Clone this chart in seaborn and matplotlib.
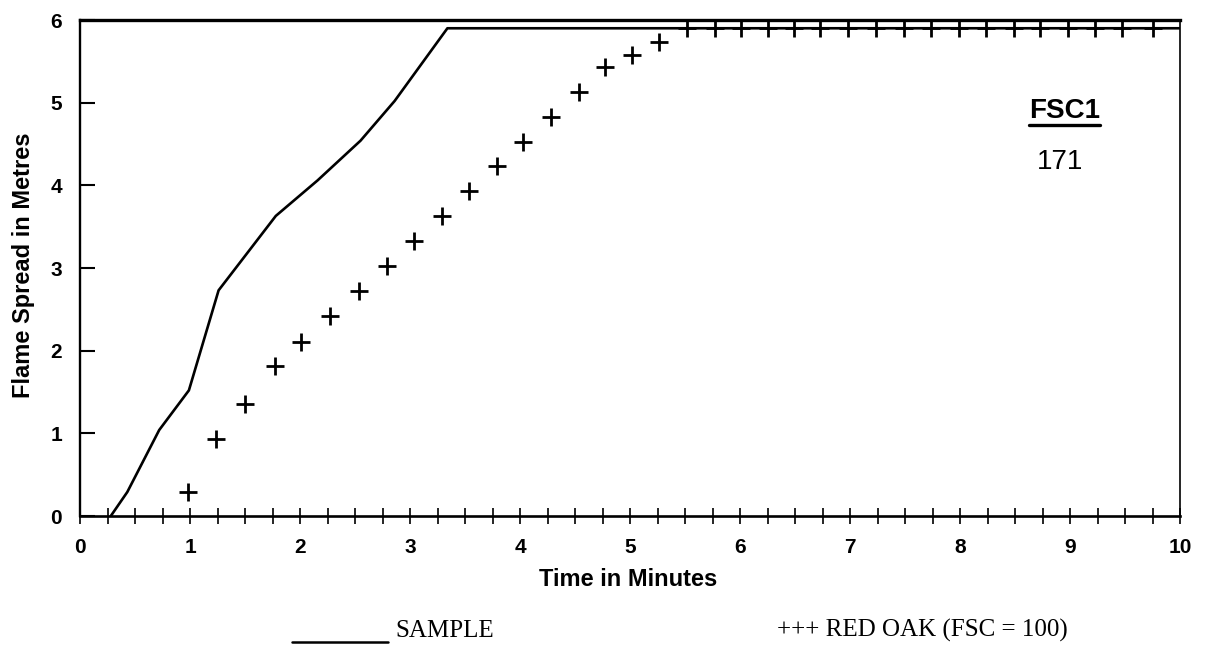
import numpy as np
import pandas as pd
import matplotlib
matplotlib.use("Agg")
import matplotlib.pyplot as plt
from matplotlib.lines import Line2D
from matplotlib.ticker import MultipleLocator
import seaborn as sns

# ---- data ----
sample_t = [0.28, 0.43, 0.72, 0.99, 1.26, 1.78, 2.16, 2.55, 2.86, 3.34, 10.0]
sample_y = [0.00, 0.29, 1.04, 1.52, 2.73, 3.63, 4.06, 4.54, 5.02, 5.90, 5.90]

oak_t = [0.98, 1.24, 1.50, 1.77, 2.01, 2.27, 2.54, 2.79, 3.04, 3.29, 3.54, 3.79,
         4.03, 4.28, 4.54, 4.77, 5.02, 5.26, 5.52, 5.77, 6.01, 6.25, 6.49, 6.73,
         6.98, 7.24, 7.49, 7.74, 7.99, 8.24, 8.49, 8.73, 8.98, 9.23, 9.47, 9.75]
oak_y = [0.29, 0.93, 1.35, 1.81, 2.11, 2.42, 2.72, 3.02, 3.33, 3.63, 3.93, 4.23,
         4.53, 4.83, 5.13, 5.43, 5.58, 5.73, 5.90, 5.90, 5.90, 5.90, 5.90, 5.90,
         5.90, 5.90, 5.90, 5.90, 5.90, 5.90, 5.90, 5.90, 5.90, 5.90, 5.90, 5.90]

x_ticks = [0, 1, 2, 3, 4, 5, 6, 7, 8, 9, 10]
y_ticks = [0, 1, 2, 3, 4, 5, 6]

x_label = "Time in Minutes"
y_label = "Flame Spread in Metres"
annot_title = "FSC1"
annot_value = "171"
legend_sample = "SAMPLE"
legend_oak = "+++ RED OAK (FSC = 100)"

sample_df = pd.DataFrame({"t": sample_t, "y": sample_y})
oak_df = pd.DataFrame({"t": oak_t, "y": oak_y})

# ---- style ----
sns.set_style("ticks")
plt.rcParams["font.family"] = ["Liberation Sans", "DejaVu Sans"]
plt.rcParams["text.color"] = "black"
plt.rcParams["axes.labelcolor"] = "black"
plt.rcParams["xtick.color"] = "black"
plt.rcParams["ytick.color"] = "black"

W, H = 1205, 652
fig = plt.figure(figsize=(W / 100, H / 100), dpi=100)
ax = fig.add_axes([80 / W, 1 - 516 / H, 1100 / W, 496 / H])

sns.lineplot(data=sample_df, x="t", y="y", ax=ax, color="black", lw=1.9,
             estimator=None, sort=False)
sns.scatterplot(data=oak_df, x="t", y="y", ax=ax, marker="+", s=150,
                color="black", linewidth=2.0, zorder=3)

ax.set_xlim(0, 10)
ax.set_ylim(0, 6)
ax.set_xticks(x_ticks)
ax.set_xticklabels([str(v) for v in x_ticks])
ax.set_yticks(y_ticks)
ax.set_yticklabels([str(v) for v in y_ticks])
ax.xaxis.set_minor_locator(MultipleLocator(0.25))

ax.tick_params(axis="x", which="both", direction="inout", length=11, width=1.2,
               pad=10, labelsize=15, colors="black", labelcolor="black")
ax.tick_params(axis="y", which="major", direction="in", length=11, width=1.5,
               pad=13, labelsize=15, colors="black", labelcolor="black")
for lab in ax.get_xticklabels() + ax.get_yticklabels():
    lab.set_fontweight("bold")
    lab.set_color("black")

for side, lw in {"top": 2.4, "left": 1.7, "bottom": 1.9, "right": 1.2}.items():
    ax.spines[side].set_visible(True)
    ax.spines[side].set_linewidth(lw)
    ax.spines[side].set_color("black")

ax.set_xlabel(x_label, fontsize=17, fontweight="bold", color="black")
ax.xaxis.set_label_coords(0.498, -0.105)
ax.set_ylabel(y_label, fontsize=17, fontweight="bold", color="black")
ax.yaxis.label.set_verticalalignment("center")
ax.yaxis.set_label_coords(-0.051, 0.506)

t1 = ax.text(8.95, 4.90, annot_title, fontsize=20, fontweight="bold",
             ha="center", va="center", color="black")
ax.text(8.91, 4.28, annot_value, fontsize=20, ha="center", va="center",
        color="black")

# legend text below the axes
serif = ["Liberation Serif", "DejaVu Serif"]
fig.text(395 / W, 1 - 637 / H, legend_sample, fontsize=18, family=serif,
         va="baseline", ha="left", color="black")
fig.text(777 / W, 1 - 637 / H, legend_oak, fontsize=18, family=serif,
         va="baseline", ha="left", color="black")
fig.add_artist(Line2D([292 / W, 388 / W], [1 - 642 / H, 1 - 642 / H],
                      transform=fig.transFigure, color="black", lw=1.8))

# underline FSC1
fig.canvas.draw()
bb = t1.get_window_extent()
fig.add_artist(Line2D([bb.x0, bb.x1], [bb.y0 - 1, bb.y0 - 1],
                      transform=None, color="black", lw=2.4))

fig.savefig("out.png", dpi=100, facecolor="white")
